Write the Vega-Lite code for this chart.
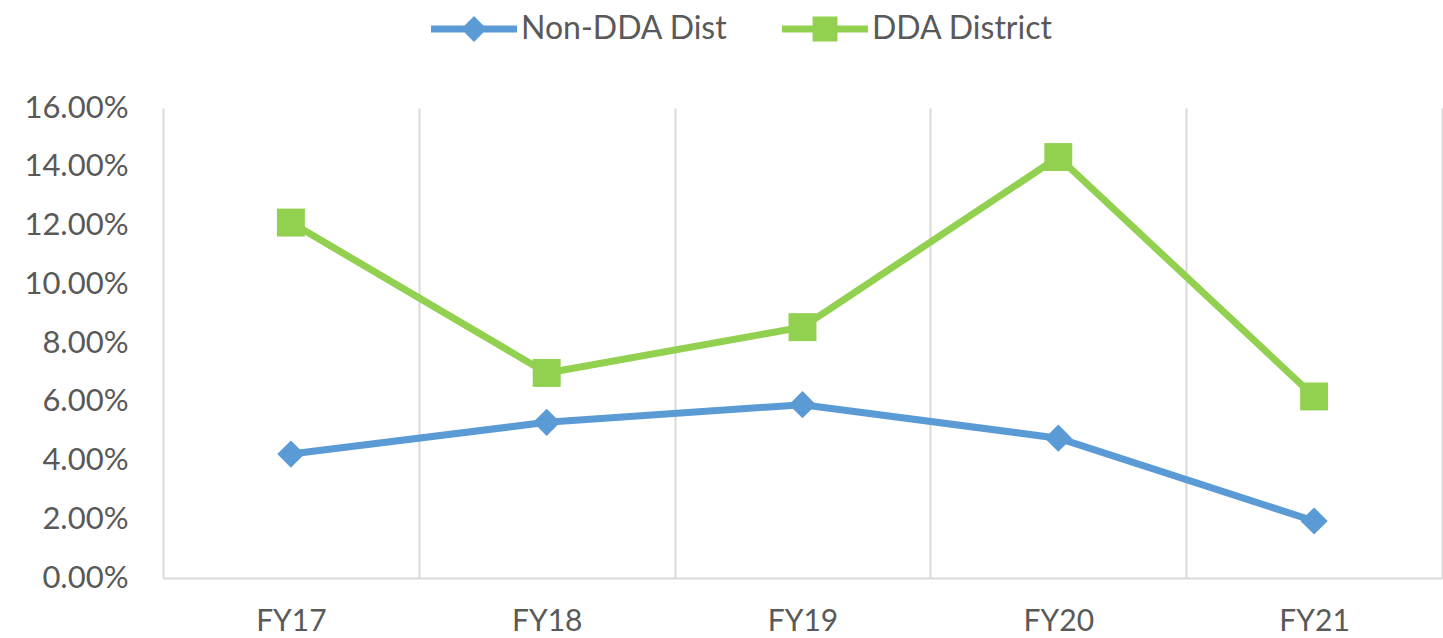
{
  "$schema": "https://vega.github.io/schema/vega-lite/v6.json",
  "width": 1279,
  "height": 470,
  "autosize": "none",
  "padding": {"left": 163, "top": 108, "right": 1, "bottom": 60},
  "background": "white",
  "config": {
    "view": {"stroke": null},
    "font": "Lato"
  },
  "data": {
    "values": [
      {"year": "FY17", "series": "Non-DDA Dist", "value": 0.0422},
      {"year": "FY18", "series": "Non-DDA Dist", "value": 0.0530},
      {"year": "FY19", "series": "Non-DDA Dist", "value": 0.0590},
      {"year": "FY20", "series": "Non-DDA Dist", "value": 0.0476},
      {"year": "FY21", "series": "Non-DDA Dist", "value": 0.0194},
      {"year": "FY17", "series": "DDA District", "value": 0.1210},
      {"year": "FY18", "series": "DDA District", "value": 0.0698},
      {"year": "FY19", "series": "DDA District", "value": 0.0854},
      {"year": "FY20", "series": "DDA District", "value": 0.1433},
      {"year": "FY21", "series": "DDA District", "value": 0.0618}
    ]
  },
  "encoding": {
    "x": {
      "field": "year",
      "type": "nominal",
      "bandPosition": 0.5,
      "scale": {"type": "band", "paddingInner": 0, "paddingOuter": 0},
      "axis": {
        "title": null,
        "labelAngle": 0,
        "tickBand": "extent",
        "ticks": false,
        "grid": true,
        "gridColor": "#d9d9d9",
        "gridWidth": 2,
        "domainColor": "#d9d9d9",
        "domainWidth": 2,
        "labelFont": "Lato",
        "labelFontSize": 30,
        "labelColor": "#595959",
        "labelPadding": 28
      }
    },
    "y": {
      "field": "value",
      "type": "quantitative",
      "scale": {"domain": [0, 0.16], "nice": false},
      "axis": {
        "title": null,
        "values": [0, 0.02, 0.04, 0.06, 0.08, 0.1, 0.12, 0.14, 0.16],
        "format": ".2%",
        "grid": false,
        "ticks": false,
        "domain": false,
        "labelFont": "Lato",
        "labelFontSize": 31,
        "labelColor": "#595959",
        "labelPadding": 35
      }
    },
    "color": {
      "field": "series",
      "type": "nominal",
      "scale": {"domain": ["Non-DDA Dist", "DDA District"], "range": ["#5b9bd5", "#92d050"]},
      "legend": {
        "title": null,
        "orient": "none",
        "direction": "horizontal",
        "legendX": 268,
        "legendY": -122,
        "labelFont": "Lato",
        "labelFontSize": 32,
        "labelColor": "#595959",
        "labelLimit": 0,
        "labelOffset": 4,
        "columnPadding": 54,
        "symbolSize": 7396,
        "symbolOpacity": 1,
        "symbolStrokeWidth": 0
      }
    }
  },
  "layer": [
    {
      "mark": {"type": "point", "filled": true, "opacity": 0, "size": 7396, "strokeWidth": 0},
      "encoding": {
        "shape": {
          "field": "series",
          "type": "nominal",
          "scale": {
            "domain": ["Non-DDA Dist", "DDA District"],
            "range": [
              "M-1,-0.08H-0.22L0,-0.3L0.22,-0.08H1V0.08H0.22L0,0.3L-0.22,0.08H-1Z",
              "M-1,-0.08H-0.29V-0.29H0.29V-0.08H1V0.08H0.29V0.29H-0.29V0.08H-1Z"
            ]
          },
          "legend": null
        }
      }
    },
    {
      "mark": {"type": "line", "strokeWidth": 7, "strokeJoin": "round"}
    },
    {
      "transform": [{"filter": "datum.series === 'Non-DDA Dist'"}],
      "mark": {"type": "point", "filled": true, "opacity": 1, "size": 740, "shape": "diamond"}
    },
    {
      "transform": [{"filter": "datum.series === 'DDA District'"}],
      "mark": {"type": "point", "filled": true, "opacity": 1, "size": 780, "shape": "square"}
    }
  ]
}
